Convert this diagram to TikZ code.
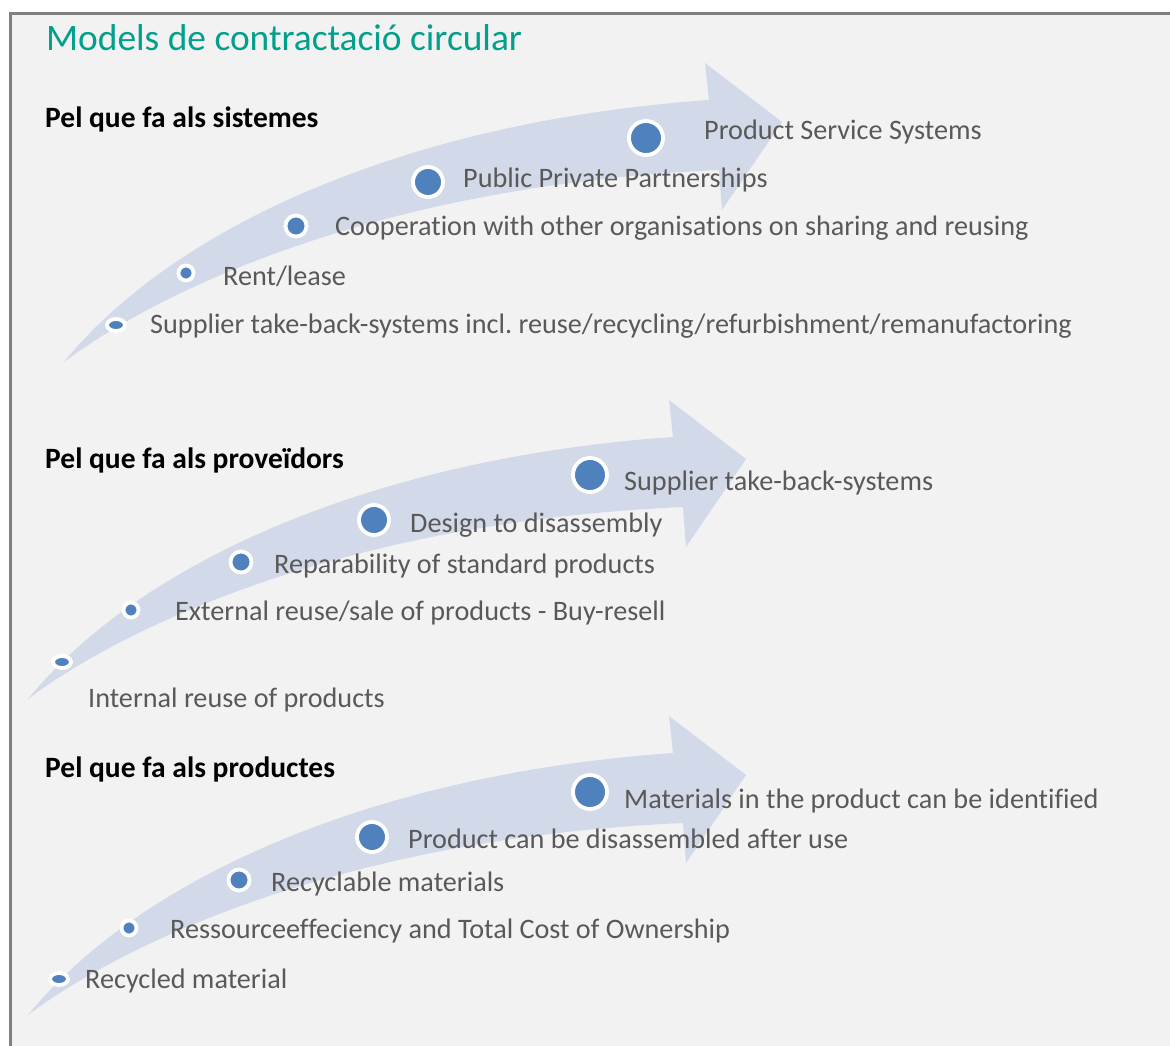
\documentclass[tikz,border=0pt]{standalone}
\usepackage{fontspec}
\setmainfont[Ligatures=NoCommon]{Carlito}
\usetikzlibrary{shapes.geometric}
\frenchspacing
\definecolor{bgc}{RGB}{242,242,242}
\definecolor{bordc}{RGB}{128,128,128}
\definecolor{arrc}{RGB}{210,217,232}
\definecolor{dotc}{RGB}{79,129,189}
\definecolor{txtc}{RGB}{89,89,89}
\definecolor{ttlc}{RGB}{0,160,138}
\begin{document}
\begin{tikzpicture}[x=1pt,y=-1pt,
  lbl/.style={anchor=base west,inner sep=0pt,text=txtc,font=\fontsize{28.2}{32}\selectfont},
  head/.style={anchor=base west,inner sep=0pt,text=black,font=\fontsize{29.5}{34}\selectfont\bfseries},
  dotbase/.style={fill=dotc,draw=white,line width=3.8pt,inner sep=0pt},
  dotA/.style={dotbase,ellipse,minimum width=18pt,minimum height=12pt},
  dotB/.style={dotbase,circle,minimum size=15pt},
  dotC/.style={dotbase,circle,minimum size=21pt},
  dotD/.style={dotbase,circle,minimum size=30pt},
  dotE/.style={dotbase,circle,minimum size=34pt},
  bigarrow/.style={fill=arrc}]
\useasboundingbox (0,0) rectangle (1170,1046);
\fill[white] (0,0) rectangle (1170,1046);
\fill[bgc] (10.5,13.5) rectangle (1170,1046);
\draw[bordc,line width=3pt] (10.5,1046) -- (10.5,13.5) -- (1170,13.5);

\node[anchor=base west,inner sep=0pt,text=ttlc,font=\fontsize{37.4}{42}\selectfont] (title) at (46,51) {Models de contractació circular};

% arrows
\foreach \dx/\dy in {0/0,-36/337,-36/653}{
\begin{scope}[shift={(\dx,\dy)}]
\fill[bigarrow] (64,362) .. controls (180,220) and (420,120) .. (709,100)
  -- (705,63) -- (782,122) -- (722,210) -- (719,170)
  .. controls (380,185) and (160,290) .. cycle;
\end{scope}}

% section 1
\node[head] (h1) at (45,128) {Pel que fa als sistemes};
\node[dotA] (a1) at (116,325) {};
\node[dotB] (a2) at (186,273) {};
\node[dotC] (a3) at (296,226) {};
\node[dotD] (a4) at (428,182) {};
\node[dotE] (a5) at (646,138) {};
\node[lbl] (ta1) at (150,333) {Supplier take-back-systems incl. reuse/recycling/refurbishment/remanufactoring};
\node[lbl] (ta2) at (223,285) {Rent/lease};
\node[lbl] (ta3) at (335,235) {Cooperation with other organisations on sharing and reusing};
\node[lbl] (ta4) at (463,187) {Public Private Partnerships};
\node[lbl] (ta5) at (704,140) {Product Service Systems};

% section 2
\node[head] (h2) at (45,468) {Pel que fa als proveïdors};
\node[dotA] (b1) at (62,662) {};
\node[dotB] (b2) at (131,610) {};
\node[dotC] (b3) at (241,562) {};
\node[dotD] (b4) at (374,520) {};
\node[dotE] (b5) at (590,475) {};
\node[lbl] (tb1) at (88,707) {Internal reuse of products};
\node[lbl] (tb2) at (175,620) {External reuse/sale of products - Buy-resell};
\node[lbl] (tb3) at (274,573) {Reparability of standard products};
\node[lbl] (tb4) at (410,532) {Design to disassembly};
\node[lbl] (tb5) at (624,490) {Supplier take-back-systems};

% section 3
\node[head] (h3) at (45,777) {Pel que fa als productes};
\node[dotA] (c1) at (59,979) {};
\node[dotB] (c2) at (129,928) {};
\node[dotC] (c3) at (239,880) {};
\node[dotD] (c4) at (372,837) {};
\node[dotE] (c5) at (590,792) {};
\node[lbl] (tc1) at (85,988) {Recycled material};
\node[lbl] (tc2) at (170,938) {Ressourceeffeciency and Total Cost of Ownership};
\node[lbl] (tc3) at (271,891) {Recyclable materials};
\node[lbl] (tc4) at (408,848) {Product can be disassembled after use};
\node[lbl] (tc5) at (624,808) {Materials in the product can be identified};
\end{tikzpicture}
\end{document}
